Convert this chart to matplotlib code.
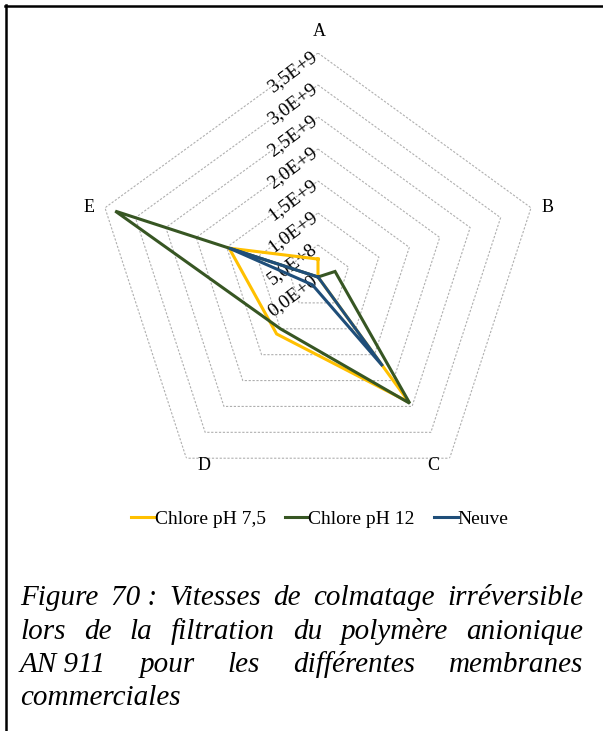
import numpy as np
import matplotlib
matplotlib.use("Agg")
import matplotlib.pyplot as plt
from matplotlib.lines import Line2D
from matplotlib.transforms import offset_copy

plt.rcParams['font.family'] = ['Liberation Serif', 'DejaVu Serif']

# axes of the radar
categories = ['A', 'B', 'C', 'D', 'E']
ring_values = [0.0, 0.5e9, 1.0e9, 1.5e9, 2.0e9, 2.5e9, 3.0e9, 3.5e9]
ring_labels = ['0,0E+0', '5,0E+8', '1,0E+9', '1,5E+9', '2,0E+9', '2,5E+9', '3,0E+9', '3,5E+9']

# irreversible fouling rates per membrane
chlore_75 = [0.28e9, 0.0, 2.42e9, 1.10e9, 1.46e9]
chlore_12 = [0.0, 0.28e9, 2.44e9, 1.00e9, 3.33e9]
neuve = [0.0, 0.0, 1.72e9, 0.15e9, 1.46e9]

series_names = ['Chlore pH 7,5', 'Chlore pH 12', 'Neuve']
series_colors = ['#FFC000', '#375623', '#1F4E79']

W, H = 603, 731
fig = plt.figure(figsize=(W / 100, H / 100), dpi=100)

cx, cy, R = 318, 277, 224
ax = fig.add_axes([(cx - R) / W, (H - cy - R) / H, 2 * R / W, 2 * R / H],
                  projection='polar')
ax.set_theta_zero_location('N')
ax.set_theta_direction(-1)
ax.set_ylim(0, ring_values[-1])
ax.set_xticks([])
ax.set_yticks([])
ax.grid(False)
ax.spines['polar'].set_visible(False)
ax.patch.set_alpha(0)

theta = np.linspace(0, 2 * np.pi, len(categories), endpoint=False)
theta_c = np.append(theta, theta[0])

# pentagon grid
for v in ring_values[1:]:
    ax.plot(theta_c, [v] * len(theta_c), color='#AFAFAF', lw=0.8,
            ls=(0, (2, 1.5)), zorder=1)

# value labels along the A axis
lab_tr = offset_copy(ax.transData, fig=fig, x=-3, y=-2, units='dots')
for v, t in zip(ring_values, ring_labels):
    ax.text(0, v, t, transform=lab_tr, rotation=37, rotation_mode='anchor',
            ha='right', va='center', fontsize=14, zorder=2)

handles = []
for vals, name, col in zip([chlore_75, chlore_12, neuve], series_names, series_colors):
    vv = np.append(vals, vals[0])
    ln, = ax.plot(theta_c, vv, color=col, lw=2.2, label=name, zorder=3,
                  solid_joinstyle='miter')
    handles.append(ln)

# category labels
cat_pos = [(319, 31), (548, 207), (433, 466), (204, 466), (89, 207)]
for c, (px, py) in zip(categories, cat_pos):
    fig.text(px / W, 1 - py / H, c, ha='center', va='center', fontsize=13)

fig.legend(handles=handles, loc='center', bbox_to_anchor=(320 / W, 1 - 519 / H),
           ncol=3, frameon=False, fontsize=14, handlelength=1.2,
           handletextpad=0.0, columnspacing=1.0)

# border (left and top)
fig.add_artist(Line2D([6 / W, 6 / W], [0, 1 - 5 / H], color='black', lw=1.8,
                      transform=fig.transFigure))
fig.add_artist(Line2D([5 / W, 1], [1 - 6 / H, 1 - 6 / H], color='black', lw=1.8,
                      transform=fig.transFigure))

# justified italic caption
caption_words = [
    ["Figure", "70 :", "Vitesses", "de", "colmatage", "irréversible"],
    ["lors", "de", "la", "filtration", "du", "polymère", "anionique"],
    ["AN 911", "pour", "les", "différentes", "membranes"],
    ["commerciales"],
]
x_left, x_right = 20, 583
baselines = [605, 639, 672, 705]
renderer = fig.canvas.get_renderer()
for i, (words, yb) in enumerate(zip(caption_words, baselines)):
    texts = [fig.text(0, 1 - yb / H, w, fontsize=21, style='italic',
                      ha='left', va='baseline') for w in words]
    widths = [t.get_window_extent(renderer).width for t in texts]
    if i == len(caption_words) - 1:
        gap = 7
    else:
        gap = (x_right - x_left - sum(widths)) / (len(words) - 1)
    x = x_left
    for t, w in zip(texts, widths):
        t.set_x(x / W)
        x += w + gap

fig.savefig('out.png', dpi=100)
